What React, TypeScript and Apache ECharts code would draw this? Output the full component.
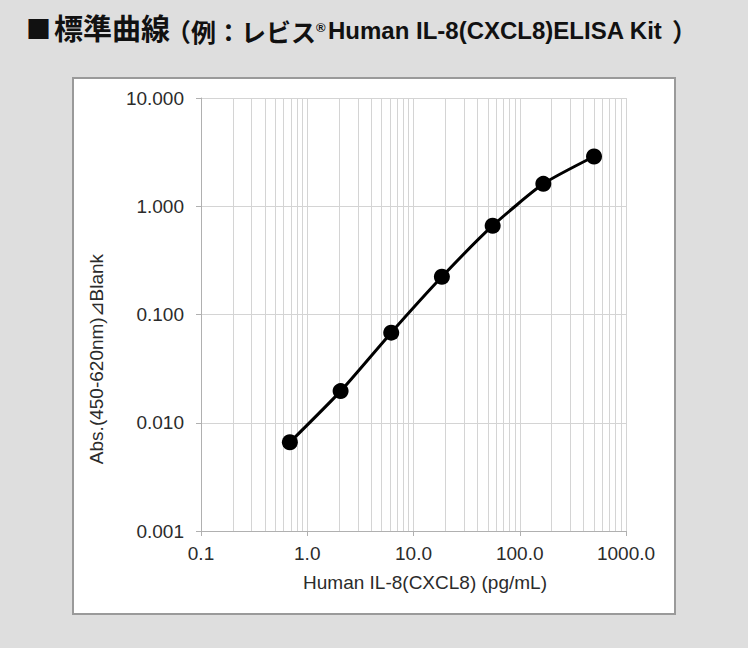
import React, { useEffect, useRef } from "react";
import * as echarts from "echarts";

// Data
const concentrations = [0.686, 2.06, 6.17, 18.5, 55.6, 166.7, 500]; // pg/mL
const absorbance = [0.0066, 0.0196, 0.068, 0.223, 0.661, 1.61, 2.88];
const minorXLines = [
  0.2, 0.3, 0.4, 0.5, 0.6, 0.7, 0.8, 0.9,
  2, 3, 4, 5, 6, 7, 8, 9,
  20, 30, 40, 50, 60, 70, 80, 90,
  200, 300, 400, 500, 600, 700, 800, 900,
];
const titleSquare = "■";
const titleMain = "標準曲線";
const titleParen = "（例：レビス";
const titleReg = "®";
const titleLatin = "Human IL-8(CXCL8)ELISA Kit";
const titleClose = "）";
const xAxisName = "Human IL-8(CXCL8) (pg/mL)";
const yAxisName = "Abs.(450-620nm)⊿Blank";

const LATIN = "'Liberation Sans', Arial, 'DejaVu Sans', 'Noto Sans CJK JP', sans-serif";
const CJK = "'Noto Sans CJK JP', 'Liberation Sans', sans-serif";

export default function App() {
  const ref = useRef<HTMLDivElement>(null);

  useEffect(() => {
    if (!ref.current) return;
    const chart = echarts.init(ref.current, undefined, { renderer: "svg" });
    const gridColor = "#d4d4d4";
    const axisColor = "#b0b0b0";
    const textColor = "#2b2b2b";

    chart.setOption({
      animation: false,
      backgroundColor: "transparent",
      grid: { left: 201, right: 122, top: 98, bottom: 117, containLabel: false },
      xAxis: {
        type: "log",
        logBase: 10,
        min: 0.1,
        max: 1000,
        axisLine: { show: true, lineStyle: { color: axisColor, width: 1 } },
        axisTick: { show: true, length: 5, lineStyle: { color: axisColor } },
        axisLabel: {
          margin: 13,
          fontSize: 19,
          fontFamily: LATIN,
          color: textColor,
          formatter: (v: number) => Number(v).toFixed(1),
        },
        splitLine: { show: true, lineStyle: { color: gridColor, width: 1 } },
      },
      yAxis: {
        type: "log",
        logBase: 10,
        min: 0.001,
        max: 10,
        splitNumber: 4,
        axisLine: { show: true, lineStyle: { color: axisColor, width: 1 } },
        axisTick: { show: true, length: 5, lineStyle: { color: axisColor } },
        axisLabel: {
          margin: 17,
          fontSize: 19,
          fontFamily: LATIN,
          color: textColor,
          formatter: (v: number) => Number(v).toFixed(3),
        },
        splitLine: { show: true, lineStyle: { color: gridColor, width: 1 } },
      },
      series: [
        {
          type: "line",
          z: 1,
          silent: true,
          data: concentrations.map((c, i) => [c, absorbance[i]]),
          symbol: "none",
          lineStyle: { opacity: 0 },
          markLine: {
            silent: true,
            symbol: "none",
            label: { show: false },
            lineStyle: { color: gridColor, width: 1, type: "solid" },
            data: minorXLines.map((v) => ({ xAxis: v })),
          },
        },
        {
          type: "line",
          z: 5,
          data: concentrations.map((c, i) => [c, absorbance[i]]),
          smooth: 0.2,
          symbol: "circle",
          symbolSize: 16,
          itemStyle: { color: "#000" },
          lineStyle: { color: "#000", width: 3 },
        },
      ],
      graphic: [
        {
          type: "text",
          x: 26,
          y: 27.5,
          style: {
            text: titleSquare,
            font: `bold 25px ${CJK}`,
            fill: "#111",
            verticalAlign: "middle",
            align: "left",
          },
        },
        {
          type: "text",
          x: 54,
          y: 26.5,
          style: {
            text: titleMain,
            font: `bold 29px ${CJK}`,
            fill: "#111",
            verticalAlign: "middle",
            align: "left",
          },
        },
        {
          type: "text",
          x: 166,
          y: 31,
          style: {
            text: titleParen,
            font: `bold 25px ${CJK}`,
            fill: "#111",
            verticalAlign: "middle",
            align: "left",
          },
        },
        {
          type: "text",
          x: 316,
          y: 27.5,
          style: {
            text: titleReg,
            font: `bold 13px ${LATIN}`,
            fill: "#111",
            verticalAlign: "middle",
            align: "left",
          },
        },
        {
          type: "text",
          x: 328,
          y: 30,
          style: {
            text: titleLatin,
            font: `bold 24px ${LATIN}`,
            fill: "#111",
            verticalAlign: "middle",
            align: "left",
          },
        },
        {
          type: "text",
          x: 672,
          y: 31,
          style: {
            text: titleClose,
            font: `bold 25px ${CJK}`,
            fill: "#111",
            verticalAlign: "middle",
            align: "left",
          },
        },
        {
          type: "text",
          x: 425,
          y: 582,
          style: {
            text: xAxisName,
            font: `19px ${LATIN}`,
            fill: textColor,
            verticalAlign: "middle",
            align: "center",
          },
        },
        {
          type: "text",
          x: 96,
          y: 359,
          rotation: Math.PI / 2,
          style: {
            text: yAxisName,
            font: `19px ${LATIN}`,
            fill: textColor,
            verticalAlign: "middle",
            align: "center",
          },
        },
      ],
    });

    return () => chart.dispose();
  }, []);

  return (
    <div
      style={{
        position: "absolute",
        left: 0,
        top: 0,
        width: 748,
        height: 648,
        background: "#dedede",
        overflow: "hidden",
      }}
    >
      <div
        style={{
          position: "absolute",
          left: 72,
          top: 77,
          width: 600,
          height: 534,
          background: "#ffffff",
          border: "2px solid #9a9a9a",
        }}
      />
      <div
        ref={ref}
        style={{ position: "absolute", left: 0, top: 0, width: 748, height: 648 }}
      />
    </div>
  );
}
